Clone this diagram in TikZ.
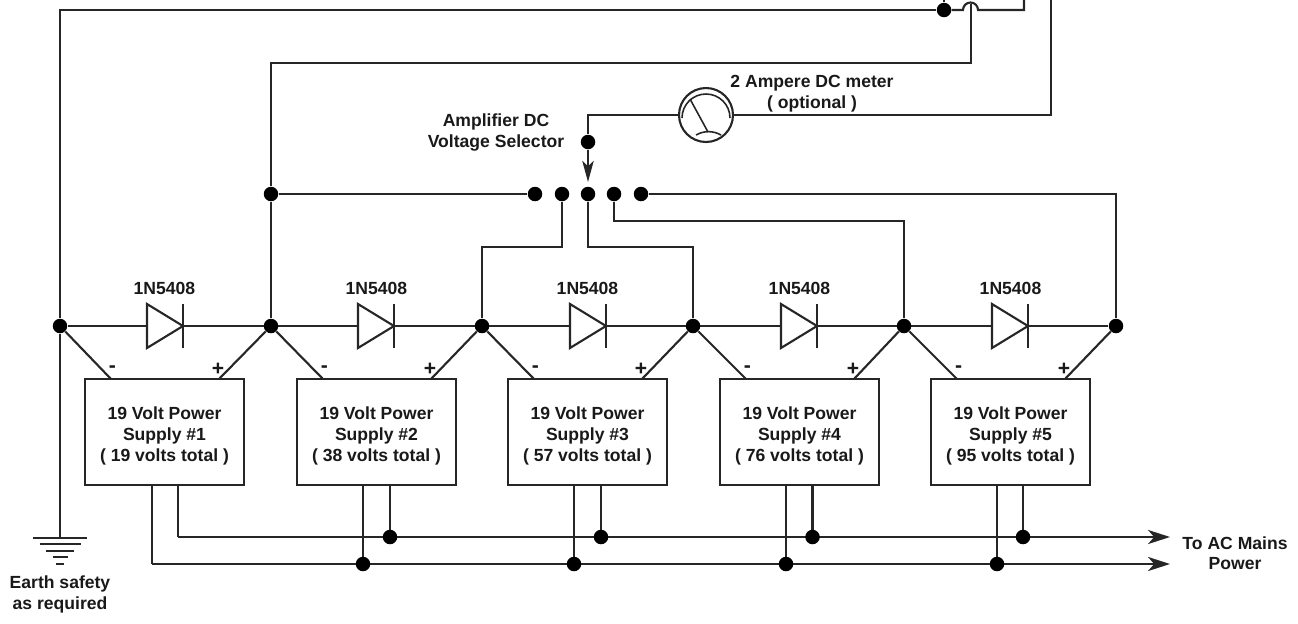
\documentclass[tikz,border=0pt]{standalone}
\usepackage{fontspec}
\setmainfont{Liberation Sans}
\usepackage{xcolor}
\usepackage{tikz}
\usetikzlibrary{arrows.meta,positioning,backgrounds}
\definecolor{wirecol}{HTML}{262626}
\tikzset{
  wire/.style={draw=wirecol,line width=1.2pt},
  lbl/.style={font=\fontsize{10}{11.7}\selectfont\bfseries,text=black!90,align=center,inner sep=0pt},
  signlbl/.style={lbl,font=\fontsize{12}{12}\selectfont\bfseries},
  dotnode/.style={circle,fill=black,inner sep=0pt,minimum size=0.29cm},
  psbox/.style={lbl,wire,fill=white,minimum width=3.18cm,minimum height=2.12cm},
  diode/.pic={\draw[wire,fill=white] (-18,-22) -- (18,0) -- (-18,22) -- cycle; \draw[wire] (18,-22) -- (18,22);},
  bigtip/.style={-{Stealth[length=12.5pt,width=8pt,inset=3.5pt]}}
}
\begin{document}
\begin{tikzpicture}[x=0.02cm,y=-0.02cm]
\useasboundingbox (0,0) rectangle (1298,623);
\foreach \n/\x in {0/60,1/271,2/482,3/693,4/904,5/1116}
  \node[dotnode] (j\n) at (\x,326) {};
\foreach \n/\x in {1/535,2/562,3/588,4/614,5/641}
  \node[dotnode] (s\n) at (\x,194) {};
\node[dotnode] (sw) at (588,142) {};
\node[dotnode] (s0) at (271,194) {};
\node[dotnode] (dtop) at (944,10) {};
\node[circle,wire,inner sep=0pt,minimum size=1.08cm] (meter) at (706,115) {};
\coordinate (top1) at (944,0);
\coordinate (top2) at (1024,0);
\coordinate (top3) at (1051,0);
\coordinate (hopa) at (963,10);
\coordinate (hopb) at (971,4);
\coordinate (gnd) at (60,538);
\coordinate (endh) at (1170,537);
\coordinate (endn) at (1170,564);
\foreach \n/\x/\m/\p/\t in {1/164.5/-12.5/13.5/19,2/376.5/-13.5/13.5/38,3/587.5/-13.5/13.5/57,4/799.5/-13.5/13/76,5/1010.5/-13.5/12.5/95}{
  \node[psbox] (ps\n) at (\x,432) {\rule{0pt}{11.8pt}19 Volt Power\\Supply \#\n\\( \t{} volts total )};
  \coordinate (pn\n) at (\x-53.5,379);
  \coordinate (pp\n) at (\x+54.5,379);
  \node[signlbl] (mn\n) at (\x-52,369) {-};
  \node[signlbl] (pl\n) at (\x+53.5,369) {+};
  \node[lbl] (dl\n) at (\x,288) {1N5408};
  \coordinate (bn\n) at (\x+\m,564);
  \coordinate (bh\n) at (\x+\p,537);
}
\foreach \n in {2,3,4,5}{
  \node[dotnode] at (bn\n) {};
  \node[dotnode] at (bh\n) {};
}
\node[lbl] (earth) at (60,594.5) {Earth safety\\as required};
\node[lbl] (mains) at (1235,553) {To AC Mains\\Power};
\node[lbl] (meterl) at (812,93.5) {2 Ampere DC meter\\( optional )};
\node[lbl] (selectl) at (496,132.5) {Amplifier DC\\Voltage Selector};
\begin{scope}[on background layer]
\foreach \n in {1,2,3,4,5}{
  \draw[wire] (ps\n.south -| bn\n) -- (bn\n);
  \draw[wire] (ps\n.south -| bh\n) -- (bh\n);
}
\draw[wire,bigtip] (bn1) -- (endn);
\draw[wire,bigtip] (bh1) -- (endh);
\draw[wire] (j0) -- (j5);
\foreach \a/\b/\x in {0/1/165,1/2/376,2/3/588,3/4/799,4/5/1010}{
  \draw[wire] (j\a) -- (pn\b);
  \draw[wire] (j\b) -- (pp\b);
  \path (\x,326) pic {diode};
}
\draw[wire] (j0) -- (gnd);
\foreach \y/\w in {538/27,544/20.5,551/14,557/7.5,564/4}
  \draw[wire] (60-\w,\y) -- (60+\w,\y);
\draw[wire] (j1) -- (s0);
\draw[wire] (s0) -- (s1);
\draw[wire] (s0) |- (971,63) -- (hopb);
\draw[wire] (j0) |- (dtop);
\draw[wire] (dtop) -- (top1);
\draw[wire] (dtop) -- (hopa) arc[start angle=180,end angle=360,radius=7.5] -- (1024,10) -- (top2);
\draw[wire] (top3) |- (meter.east);
\draw[wire] (meter.west) -| (sw);
\draw[wire,-{Stealth[length=12pt,width=6.5pt,inset=3pt]}] (sw) -- (588,182);
\draw[wire] (s2) |- (482,247) -- (j2);
\draw[wire] (s3) |- (693,247) -- (j3);
\draw[wire] (s4) |- (904,221) -- (j4);
\draw[wire] (s5) -| (j5);
\end{scope}
\draw[wire,line width=0.9pt] (682,118) arc[start angle=180,end angle=360,radius=24];
\draw[wire,line width=0.9pt] (696,135) arc[start angle=240,end angle=300,radius=25];
\draw[wire,line width=0.9pt] (690,99) -- (708,132);
\end{tikzpicture}
\end{document}
